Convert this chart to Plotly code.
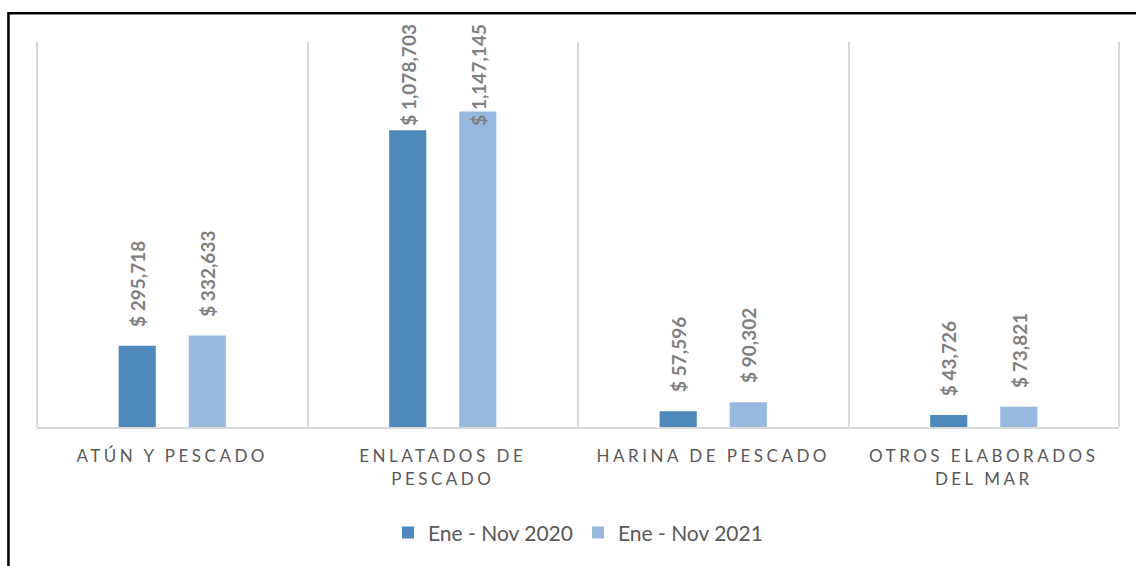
import plotly.graph_objects as go

categories = ["ATÚN Y PESCADO", "ENLATADOS DE<br>PESCADO", "HARINA DE PESCADO", "OTROS ELABORADOS<br>DEL MAR"]
series_names = ["Ene - Nov 2020", "Ene - Nov 2021"]
values_2020 = [295718, 1078703, 57596, 43726]
values_2021 = [332633, 1147145, 90302, 73821]
colors = ["#4f88bb", "#97b9e0"]

FONT = "Lato, 'Noto Sans', sans-serif"
Y_MAX = 1400000
PLOT_H = 387           # plot-area height in px (matches margins below)
LABEL_GAP = 17         # px between bar top and data label
LABEL_CHAR_PX = 9.3    # approx px per character of the rotated labels
TOP_ALLOW = 20         # labels may extend this far above the plot area

fig = go.Figure()
annotations = []
for si, (name, vals, col) in enumerate(zip(series_names, [values_2020, values_2021], colors)):
    fig.add_trace(go.Bar(
        x=categories, y=vals, name=name,
        marker=dict(color=col, line=dict(width=0)),
        hoverinfo="skip",
    ))
    for cat, v in zip(categories, vals):
        txt = f"$ {v:,}"
        bottom_px = v * PLOT_H / Y_MAX + LABEL_GAP
        fits = bottom_px + len(txt) * LABEL_CHAR_PX <= PLOT_H + TOP_ALLOW
        ann = dict(x=cat, xref="x", yref="y", text=txt, showarrow=False,
                   textangle=-90, xshift=(si - 0.5) * 70,
                   font=dict(family=FONT, size=19, color="#808080", weight="bold"))
        if fits:
            ann.update(y=v, yanchor="bottom", yshift=LABEL_GAP)
        else:  # clamp inside chart area like the original
            ann.update(y=Y_MAX, yanchor="top", yshift=TOP_ALLOW)
        annotations.append(ann)

grid_col = "#d9d9d9"
fig.update_layout(
    width=1136, height=566,
    margin=dict(l=37, r=17, t=42, b=137),
    paper_bgcolor="white", plot_bgcolor="white",
    barmode="group", bargap=0.482, bargroupgap=0.47,
    font=dict(family=FONT, color="#595959"),
    showlegend=True,
    legend=dict(orientation="h", x=0.5, xanchor="center", y=-0.275, yanchor="middle",
                font=dict(size=21, color="#595959"), itemwidth=30),
    xaxis=dict(range=[-0.5, 3.5], tickson="boundaries", showgrid=True,
               gridcolor=grid_col, gridwidth=2, ticks="", showline=True,
               linecolor=grid_col, linewidth=2, ticklabelstandoff=13,
               tickfont=dict(size=17, color="#595959"), tickangle=0),
    yaxis=dict(range=[0, Y_MAX], visible=False, showgrid=False, zeroline=False),
    annotations=annotations,
    shapes=[
        dict(type="line", xref="paper", yref="paper", x0=0, x1=0, y0=0, y1=1,
             line=dict(color=grid_col, width=2), layer="below"),
        dict(type="line", xref="paper", yref="paper", x0=1, x1=1, y0=0, y1=1,
             line=dict(color=grid_col, width=2), layer="below"),
        dict(type="rect", xref="paper", yref="paper",
             x0=-0.0264, x1=1.2, y0=-0.6, y1=1.0749,
             line=dict(color="black", width=2.5), layer="above"),
    ],
)

post = """
document.body.style.margin='0';
document.querySelectorAll('.xtick text').forEach(function(t){t.style.letterSpacing='3.5px';});
"""
fig.write_html("out.html", post_script=post, config={"displayModeBar": False})
